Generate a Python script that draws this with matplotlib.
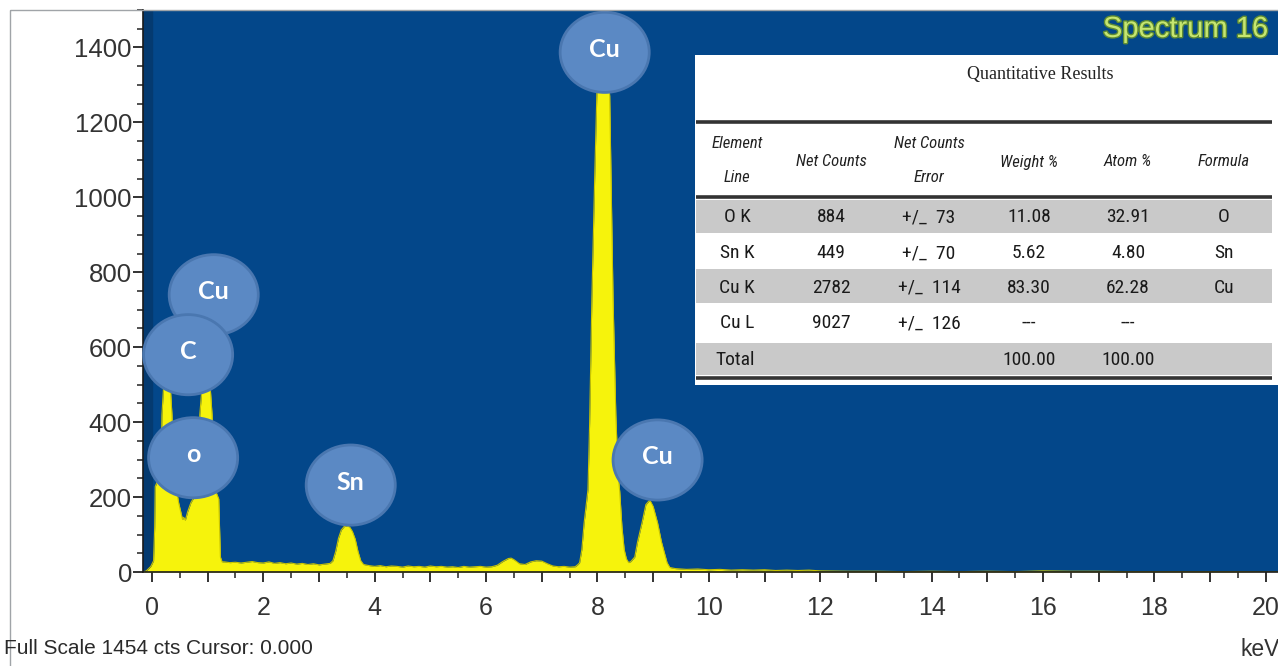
import matplotlib
matplotlib.use("Agg")
import matplotlib.pyplot as plt
from matplotlib import font_manager as fm
from matplotlib.patches import Ellipse, Rectangle
from matplotlib.ticker import MultipleLocator, FuncFormatter
import matplotlib.patheffects as pe


def pick(*names):
    for n in names:
        try:
            fm.findfont(fm.FontProperties(family=n), fallback_to_default=False)
            return n
        except ValueError:
            pass
    return "DejaVu Sans"


SANS = pick("Liberation Sans", "Arial", "DejaVu Sans")
NARROW = pick("Liberation Sans Narrow", "Roboto Condensed", "Liberation Sans")
SERIF = pick("Liberation Serif", "DejaVu Serif")
LABEL = pick("Lato", "Open Sans", "DejaVu Sans")

low_kev = [-0.16, -0.10, -0.02, 0.03, 0.05, 0.06, 0.12, 0.17, 0.18, 0.22, 0.27, 0.32,
           0.36, 0.38, 0.44, 0.48, 0.52, 0.55, 0.57, 0.60, 0.64, 0.70, 0.76, 0.82,
           0.86, 0.92, 0.97, 1.03, 1.08, 1.11, 1.16, 1.20, 1.23, 1.26]
low_cts = [0, 3, 15, 30, 120, 228, 250, 330, 420, 520, 560, 520,
           420, 300, 220, 185, 160, 140, 146, 138, 160, 185, 200, 260,
           420, 530, 560, 530, 420, 260, 210, 195, 40, 27]

base1_kev = [1.3, 1.4, 1.5, 1.6, 1.7, 1.8, 1.9, 2.0, 2.1, 2.2, 2.3, 2.4, 2.5, 2.6,
             2.7, 2.8, 2.9, 3.0, 3.1, 3.2]
base1_cts = [27, 25, 26, 24, 26, 28, 25, 24, 27, 23, 25, 22, 24, 21,
             23, 20, 22, 19, 21, 23]

sn_kev = [3.25, 3.30, 3.35, 3.40, 3.45, 3.50, 3.55, 3.60, 3.65, 3.70, 3.75, 3.80]
sn_cts = [30, 55, 90, 112, 121, 123, 120, 108, 88, 55, 30, 20]

base2_kev = [3.9, 4.0, 4.1, 4.2, 4.3, 4.4, 4.5, 4.6, 4.7, 4.8, 4.9, 5.0, 5.1, 5.2,
             5.3, 5.4, 5.5, 5.6, 5.7, 5.8, 5.9, 6.0, 6.1, 6.2, 6.3, 6.4, 6.45, 6.5,
             6.6, 6.7, 6.8, 6.9, 7.0, 7.1, 7.2, 7.3, 7.4, 7.5, 7.6, 7.65]
base2_cts = [17, 15, 17, 14, 16, 15, 13, 16, 14, 15, 13, 16, 14, 15,
             13, 14, 12, 15, 13, 14, 15, 13, 14, 18, 28, 36, 37, 33,
             22, 20, 27, 30, 29, 22, 16, 14, 15, 13, 14, 20]

cu_kev = [7.68, 7.72, 7.76, 7.80, 7.83, 7.86, 7.90, 7.95, 7.99, 8.05, 8.10, 8.16,
          8.22, 8.25, 8.28, 8.33, 8.37, 8.40, 8.44, 8.48, 8.52, 8.56,
          8.60, 8.67, 8.72, 8.80, 8.87, 8.94, 9.00, 9.08, 9.15, 9.25, 9.30]
cu_cts = [25, 60, 130, 180, 220, 400, 730, 1050, 1280, 1430, 1454, 1400,
          1270, 1000, 730, 420, 260, 215, 120, 60, 35, 25,
          28, 40, 80, 131, 180, 192, 175, 131, 80, 25, 12]

tail_kev = [9.4, 9.6, 9.8, 10.0, 10.2, 10.4, 10.6, 10.8, 11.0, 11.2, 11.4, 11.6, 11.8,
            12.0, 12.5, 13.0, 13.5, 14.0, 14.5, 15.0, 15.5, 16.0, 16.5, 17.0, 17.5,
            18.0, 18.5, 19.0, 19.5, 20.0, 20.22]
tail_cts = [9, 7, 8, 6, 7, 5, 6, 5, 6, 4, 5, 4, 5,
            3, 2, 2, 1, 2, 1, 2, 1, 3, 2, 2, 1,
            1, 1, 1, 1, 0, 0]

kev = low_kev + base1_kev + sn_kev + base2_kev + cu_kev + tail_kev
counts = low_cts + base1_cts + sn_cts + base2_cts + cu_cts + tail_cts

# peak markers
peak_labels = ["Cu", "C", "o", "Sn", "Cu", "Cu"]
label_kev = [1.11, 0.65, 0.74, 3.57, 8.13, 9.08]
label_cts = [740, 580, 305, 232, 1387, 299]

# quantitative results table
element_lines = ["O K", "Sn K", "Cu K", "Cu L", "Total"]
net_counts = ["884", "449", "2782", "9027", ""]
net_err = ["+/_  73", "+/_  70", "+/_  114", "+/_  126", ""]
weight_pct = ["11.08", "5.62", "83.30", "---", "100.00"]
atom_pct = ["32.91", "4.80", "62.28", "---", "100.00"]
formula = ["O", "Sn", "Cu", "", ""]

BLUE = "#03478a"
YELLOW = "#f6f30c"
BUBBLE = "#5b89c4"
TXT = "#333333"

fig = plt.figure(figsize=(12.78, 6.66), dpi=100)
ax = fig.add_axes([143 / 1278, 94 / 666, 1135 / 1278, 562 / 666])
ax.set_facecolor(BLUE)
ax.set_xlim(-0.16, 20.22)
ax.set_ylim(0, 1500)
ax.axvspan(-0.16, 0, color="#043a70", zorder=0)

ax.fill_between(kev, counts, 0, color=YELLOW, lw=0, zorder=2)
ax.plot(kev, counts, color="#c9c400", lw=0.8, zorder=2)

for s in ["top", "right"]:
    ax.spines[s].set_visible(False)
for s in ["left", "bottom"]:
    ax.spines[s].set_color("#1a1a1a")
    ax.spines[s].set_linewidth(1.2)

ax.xaxis.set_major_locator(MultipleLocator(1))
ax.xaxis.set_minor_locator(MultipleLocator(0.5))
ax.xaxis.set_major_formatter(FuncFormatter(lambda v, p: "%d" % v if round(v) % 2 == 0 else ""))
ax.yaxis.set_major_locator(MultipleLocator(200))
ax.yaxis.set_minor_locator(MultipleLocator(50))
ax.tick_params(axis="both", which="both", direction="out", color="#222222", labelcolor=TXT)
ax.tick_params(axis="x", which="major", length=7, width=1.3, pad=10, labelsize=18)
ax.tick_params(axis="x", which="minor", length=4, width=1.1)
ax.tick_params(axis="y", which="major", length=7, width=1.3, pad=1, labelsize=18.5)
ax.tick_params(axis="y", which="minor", length=4, width=1.1)
for t in ax.get_xticklabels() + ax.get_yticklabels():
    t.set_fontfamily(SANS)

# bubbles over the peaks
for name, x, y in zip(peak_labels, label_kev, label_cts):
    ax.add_patch(Ellipse((x, y), 1.6, 214, facecolor=BUBBLE, edgecolor="#4a77b0",
                         lw=2, zorder=4, clip_on=False))
    ax.text(x, y + 8, name, ha="center", va="center", color="white", fontsize=18,
            fontweight="bold", family=LABEL, zorder=5)

# overlay in pixel units for table and captions
ov = fig.add_axes([0, 0, 1, 1], zorder=6)
ov.set_xlim(0, 1278)
ov.set_ylim(666, 0)
ov.axis("off")
ov.patch.set_alpha(0)

ov.add_patch(Rectangle((10, 10), 1300, 700, fill=False, edgecolor="#a0a4a8", lw=1))

ov.add_patch(Rectangle((695, 55), 600, 330, facecolor="white", edgecolor="none"))
for y0, y1 in [(200, 233), (269, 303), (343, 375)]:
    ov.add_patch(Rectangle((696, y0), 576, y1 - y0, facecolor="#c9c9c9", edgecolor="none"))
for y in [122, 197, 378]:
    ov.plot([696, 1272], [y, y], color="#333333", lw=2.6, solid_capstyle="butt")

ov.text(1040, 74, "Quantitative Results", ha="center", va="center", fontsize=13,
        family=SERIF, color="#222222")

col_x = [737, 831, 929, 1029, 1128, 1224]
head_kw = dict(ha="center", va="center", fontsize=12, style="italic", family=NARROW,
               color="#222222")
ov.text(col_x[0], 143, "Element", **head_kw)
ov.text(col_x[0], 178, "Line", **head_kw)
ov.text(col_x[1], 162, "Net Counts", **head_kw)
ov.text(col_x[2], 143, "Net Counts", **head_kw)
ov.text(col_x[2], 178, "Error", **head_kw)
ov.text(col_x[3], 162, "Weight %", **head_kw)
ov.text(col_x[4], 162, "Atom %", **head_kw)
ov.text(col_x[5], 162, "Formula", **head_kw)

row_y = [217, 253, 288, 323, 360]
cell_kw = dict(va="center", fontsize=14, family=NARROW, color="#1a1a1a")
for i, y in enumerate(row_y):
    ov.text(col_x[0] - 22 if i == 4 else col_x[0], y, element_lines[i],
            ha="left" if i == 4 else "center", **cell_kw)
    ov.text(col_x[1], y, net_counts[i], ha="center", **cell_kw)
    ov.text(col_x[2], y, net_err[i], ha="center", **cell_kw)
    ov.text(col_x[3], y, weight_pct[i], ha="center", **cell_kw)
    ov.text(col_x[4], y, atom_pct[i], ha="center", **cell_kw)
    ov.text(col_x[5], y, formula[i], ha="center", **cell_kw)

ov.text(1268, 29, "Spectrum 16", ha="right", va="center", fontsize=21, family=SANS,
        color="#c6e670", path_effects=[pe.withStroke(linewidth=2, foreground="#5d8a34")])

ov.text(4, 648, "Full Scale 1454 cts Cursor: 0.000", ha="left", va="center",
        fontsize=15, family=SANS, color="#2a2a2a")
ov.text(1280, 650, "keV", ha="right", va="center", fontsize=16.5, family=SANS, color=TXT)

fig.savefig("out.png", dpi=100)
